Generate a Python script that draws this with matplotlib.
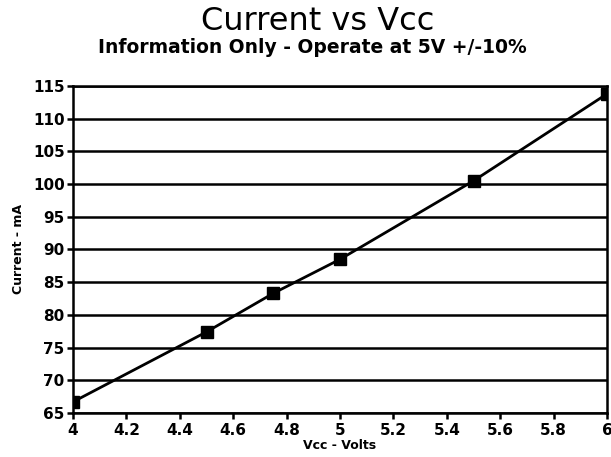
import matplotlib
matplotlib.use("Agg")
import matplotlib.pyplot as plt

vcc = [4.0, 4.5, 4.75, 5.0, 5.5, 6.0]
current = [66.7, 77.4, 83.3, 88.5, 100.5, 113.8]
x_ticks = [4, 4.2, 4.4, 4.6, 4.8, 5, 5.2, 5.4, 5.6, 5.8, 6]
x_tick_labels = ["4", "4.2", "4.4", "4.6", "4.8", "5", "5.2", "5.4", "5.6", "5.8", "6"]
y_ticks = [65, 70, 75, 80, 85, 90, 95, 100, 105, 110, 115]

title = "Current vs Vcc"
subtitle = "Information Only - Operate at 5V +/-10%"
xlabel = "Vcc - Volts"
ylabel = "Current - mA"

fig = plt.figure(figsize=(6.11, 4.57), dpi=100)
ax = fig.add_axes([0.1195, 0.0963, 0.874, 0.7155])

ax.plot(vcc, current, color="black", linewidth=2, marker="s", markersize=8,
        markerfacecolor="black", markeredgecolor="black", zorder=3)

ax.set_xlim(4, 6)
ax.set_ylim(65, 115)
ax.set_xticks(x_ticks)
ax.set_xticklabels(x_tick_labels)
ax.set_yticks(y_ticks)

ax.yaxis.grid(True, color="black", linewidth=1.8)
ax.set_axisbelow(True)
for s in ax.spines.values():
    s.set_linewidth(1.8)
    s.set_color("black")

ax.tick_params(axis="both", direction="out", length=4, width=1.8, color="black")
ax.tick_params(axis="x", pad=3)
ax.tick_params(axis="y", pad=2)
for lab in ax.get_xticklabels() + ax.get_yticklabels():
    lab.set_fontweight("bold")
    lab.set_fontsize(11)

ax.set_xlabel(xlabel, fontsize=9, fontweight="bold", labelpad=1)
ax.set_ylabel(ylabel, fontsize=9, fontweight="bold", labelpad=6)

fig.text(0.52, 0.953, title, ha="center", va="center", fontsize=23)
fig.text(0.512, 0.895, subtitle, ha="center", va="center", fontsize=13.5, fontweight="bold")

fig.savefig("out.png", dpi=100)
